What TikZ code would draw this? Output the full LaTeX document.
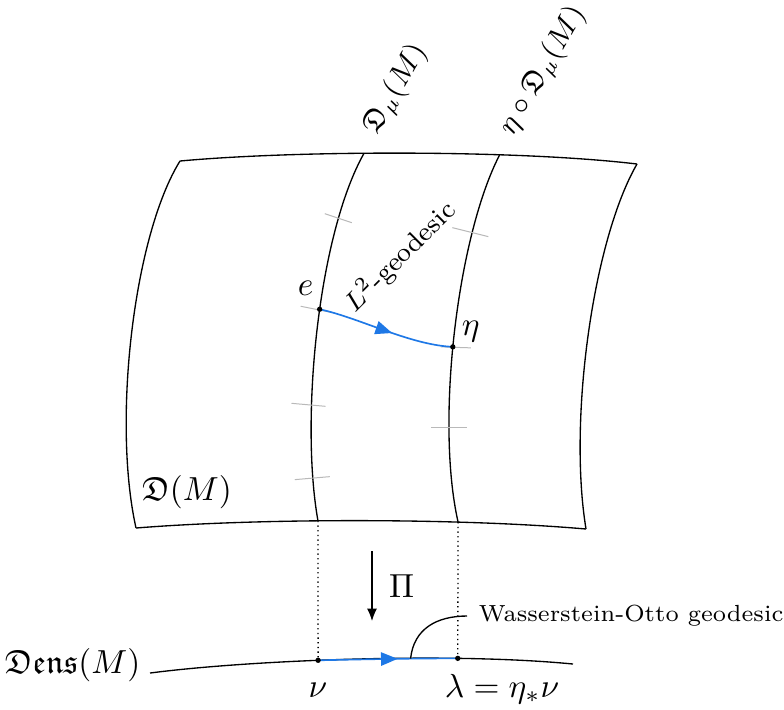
\documentclass[tikz,border=0pt]{standalone}
\usepackage{amsmath,amssymb}
\usetikzlibrary{arrows.meta,decorations.markings,calc}
\definecolor{geoblue}{RGB}{30,120,230}

\begin{document}
\begin{tikzpicture}[x=0.3pt, y=-0.3pt, >={Latex[length=3.7pt,width=3pt]},
	tickmark/.style={gray!55, line width=0.3pt},
	geodesic/.style={geoblue, line width=0.5pt, postaction={decorate}, decoration={markings, mark=at position #1 with {\arrow{Triangle[length=5pt,width=4pt]}}}},
	lab/.style={font=\footnotesize},
	wlab/.style={font=\scriptsize},
	toplab/.style={font=\small, rotate=60, anchor=south west}]
	\useasboundingbox (0,0) rectangle (784,709);
	\coordinate (tl) at (180,161);
	\coordinate (tr) at (637,164);
	\coordinate (bl) at (136,528);
	\coordinate (br) at (586,529);
	\draw (tl) .. controls (300,150) and (520,150) .. (tr) coordinate[pos=0.41] (t1) coordinate[pos=0.68] (t2);
	\draw (bl) .. controls (260,518) and (460,518) .. (br) coordinate[pos=0.413] (b1) coordinate[pos=0.703] (b2);
	\draw (tl) .. controls (134,235) and (112,420) .. (bl);
	\draw (tr) .. controls (593,240) and (568,420) .. (br);
	\draw (t1) .. controls (318,235) and (300,420) .. (b1) coordinate[pos=0.21] (u1) coordinate[pos=0.45] (e) coordinate[pos=0.68] (u2) coordinate[pos=0.87] (u3);
	\draw (t2) .. controls (458,235) and (435,420) .. (b2) coordinate[pos=0.25] (w1) coordinate[pos=0.54] (eta) coordinate[pos=0.735] (w2);
	\draw[tickmark] (u1) ++(-14,-3) -- ++(27,9);
	\draw[tickmark] (e) ++(-19,-3) -- ++(30,6);
	\draw[tickmark] (u2) ++(-20,-1) -- ++(34,3);
	\draw[tickmark] (u3) ++(-18,2) -- ++(35,-3);
	\draw[tickmark] (w1) ++(-20,-4) -- ++(36,9);
	\draw[tickmark] (eta) ++(-12,0) -- ++(30,1);
	\draw[tickmark] (w2) ++(-18,1) -- ++(36,0);
	\coordinate (dl) at (150,673);
	\coordinate (dr) at (573,664);
	\draw (dl) .. controls (250,660) and (450,652) .. (dr) coordinate[pos=0.425] (nu) coordinate[pos=0.725] (lam);
	\draw[densely dotted] (b1) -- (nu);
	\draw[densely dotted] (b2) -- (lam);
	\draw[geodesic=0.55] (e) .. controls (360,318) and (410,345) .. (eta);
	\draw[geodesic=0.57] (nu) .. controls +(45,-1) and +(-45,0) .. (lam) coordinate[pos=0.66] (wo);
	\node[wlab, anchor=west] (wolab) at (467,616) {Wasserstein-Otto geodesic};
	\draw (wo) .. controls +(3,-30) and +(-30,0) .. (wolab.west);
	\foreach \p in {e,eta,nu,lam}
		\fill (\p) circle[radius=0.8pt];
	\coordinate (pitop) at (372,551);
	\coordinate (pibot) at (372,621);
	\draw[->] (pitop) -- (pibot) node[midway, right=1.6pt] (pilab) {$\Pi$};
	\node[lab, rotate=45] (l2lab) at (400,257) {$L^2$-geodesic};
	\node (elab) at ($(e)+(-14,-21)$) {$e$};
	\node (etalab) at ($(eta)+(18,-15)$) {$\eta$};
	\node[anchor=base] (nulab) at (318,697) {$\nu$};
	\node[anchor=base] (lamlab) at (502,697) {$\lambda=\eta_*\nu$};
	\node[anchor=base east] (denslab) at (152,673) {$\mathfrak{Dens}(M)$};
	\node (dmlab) at (187,492) {$\mathfrak{D}(M)$};
	\node[toplab] (dmulab) at ($(t1)+(24,2)$) {$\mathfrak{D}_\mu(M)$};
	\node[toplab] (etadmulab) at ($(t2)+(24,2)$) {$\eta\circ\mathfrak{D}_\mu(M)$};
\end{tikzpicture}
\end{document}
